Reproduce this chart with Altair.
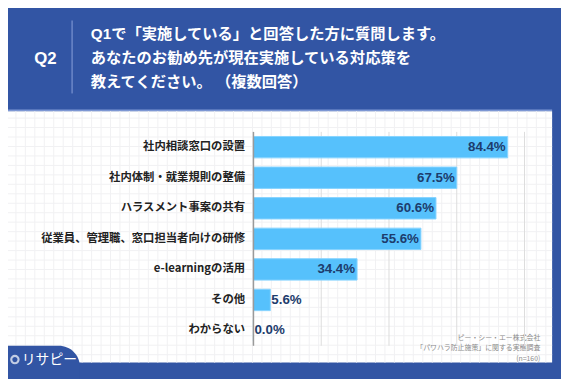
import altair as alt
import pandas as pd
import numpy as np

categories = ["社内相談窓口の設置", "社内体制・就業規則の整備", "ハラスメント事案の共有",
              "従業員、管理職、窓口担当者向けの研修", "e-learningの活用", "その他", "わからない"]
values = [84.4, 67.5, 60.6, 55.6, 34.4, 5.6, 0.0]
tick_values = [22.5, 45, 67.5, 90]
title_lines = ["Q1で「実施している」と回答した方に質問します。",
               "あなたのお勧め先が現在実施している対応策を",
               "教えてください。 （複数回答）"]
source_lines = ["ピー・シー・エー株式会社", "「パワハラ防止施策」に関する実態調査", "(n=160)"]

BLUE = "#3255a4"
FONT = "Liberation Sans, Noto Sans CJK JP"
JFONT = "Noto Sans CJK JP"

df = pd.DataFrame({"cat": categories, "val": values})
df["label"] = [f"{v:.1f}%" for v in values]
ticks_df = pd.DataFrame({"val": tick_values})

W, H = 275, 217  # plot area
one = pd.DataFrame({"a": [0]})

# white panel
panel = alt.Chart(one).mark_rect(color="white").encode(
    x=alt.value(-249), x2=alt.value(303), y=alt.value(-21), y2=alt.value(234))
panel_line = alt.Chart(one).mark_rule(color="#7d97d4", strokeWidth=1.5).encode(
    x=alt.value(-249), x2=alt.value(303), y=alt.value(-22))

# faint background grid (decoration)
gx = pd.DataFrame({"p": np.arange(-241, 303, 9.6)})
gy = pd.DataFrame({"p": np.arange(-14, 234, 9.6)})
vgrid = alt.Chart(gx).mark_rule(color="#f1f1f3", strokeWidth=1).encode(
    x=alt.X("p:Q", scale=None, axis=None), y=alt.value(-21), y2=alt.value(234))
hgrid = alt.Chart(gy).mark_rule(color="#f1f1f3", strokeWidth=1).encode(
    y=alt.Y("p:Q", scale=None, axis=None), x=alt.value(-249), x2=alt.value(303))

# header
q2 = alt.Chart(pd.DataFrame({"t": ["Q2"]})).mark_text(
    font=FONT, fontSize=17, fontWeight="bold", color="white", align="center", baseline="middle"
).encode(text="t:N", x=alt.value(-211), y=alt.value(-74))
sep = alt.Chart(one).mark_rule(color="#8aa2da", strokeWidth=1).encode(
    x=alt.value(-184), y=alt.value(-113), y2=alt.value(-39))
title_layers = []
for i, (line, yy) in enumerate(zip(title_lines, [-99, -75, -51])):
    title_layers.append(alt.Chart(pd.DataFrame({"t": [line]})).mark_text(
        font=FONT, fontSize=15.5, fontWeight="bold", color="white", align="left", baseline="middle"
    ).encode(text="t:N", x=alt.value(-165), y=alt.value(yy)))

# logo tab bottom-left
tab = alt.Chart(one).mark_rect(color=BLUE, cornerRadiusTopRight=22).encode(
    x=alt.value(-249), x2=alt.value(-176), y=alt.value(217), y2=alt.value(260))
logo_icon = alt.Chart(one).mark_point(shape="circle", size=55, filled=False, color="white", strokeWidth=2.2).encode(
    x=alt.value(-242), y=alt.value(231))
logo_text = alt.Chart(pd.DataFrame({"t": ["リサピー"]})).mark_text(
    font=JFONT, fontSize=14, fontWeight="normal", color="white", align="left", baseline="middle"
).encode(text="t:N", x=alt.value(-235), y=alt.value(231))

# source
src_layers = []
for line, yy in zip(source_lines, [209, 219, 230]):
    src_layers.append(alt.Chart(pd.DataFrame({"t": [line]})).mark_text(
        font=JFONT, fontSize=7, color="#8a8a8a", align="right", baseline="middle"
    ).encode(text="t:N", x=alt.value(291), y=alt.value(yy)))

# bars
xscale = alt.Scale(domain=[0, 90], nice=False, zero=True)
xenc = alt.X("val:Q", scale=xscale, axis=None)
yenc = alt.Y("cat:N", sort=categories,
             scale=alt.Scale(paddingInner=0.3, paddingOuter=0.15),
             axis=alt.Axis(title=None, ticks=False, domain=False, labelPadding=9, orient="left",
                           labelFont=JFONT, labelFontSize=11.5, labelFontWeight="bold",
                           labelColor="#222222", labelLimit=300, zindex=1, grid=False))
grid_rules = alt.Chart(ticks_df).mark_rule(color="#dcdcdc", strokeWidth=1).encode(
    x=alt.X("val:Q", scale=xscale, axis=None), y=alt.value(0), y2=alt.value(H))
bars = alt.Chart(df).mark_bar(color="#56c1fc", stroke="#86d3ff", strokeWidth=1).encode(x=xenc, y=yenc)
zero_line = alt.Chart(one).mark_rule(color="#9a9a9a", strokeWidth=1.5).encode(
    x=alt.value(0), y=alt.value(0), y2=alt.value(H))
lab_in = alt.Chart(df).transform_filter("datum.val >= 10").mark_text(
    font=FONT, fontSize=13.5, fontWeight="bold", color="#1d3c6c", align="right", baseline="middle", dx=-2
).encode(x="val:Q", y=alt.Y("cat:N", sort=categories), text="label:N")
lab_out = alt.Chart(df).transform_filter("datum.val < 10").mark_text(
    font=FONT, fontSize=13.5, fontWeight="bold", color="#1d3c6c", align="left", baseline="middle", dx=1
).encode(x="val:Q", y=alt.Y("cat:N", sort=categories), text="label:N")

main = alt.layer(grid_rules, bars, lab_in, lab_out, zero_line)

chart = alt.layer(panel, vgrid, hgrid, panel_line, q2, sep, *title_layers, *src_layers,
                  main, tab, logo_icon, logo_text).resolve_scale(x="independent", y="independent").properties(
    width=W, height=H,
    autosize=alt.AutoSizeParams(type="none"),
    padding={"left": 249, "top": 123, "right": 37, "bottom": 31},
    background=BLUE,
).configure_view(stroke=None)

chart.save("out.html", embed_options={"renderer": "svg", "actions": False})
